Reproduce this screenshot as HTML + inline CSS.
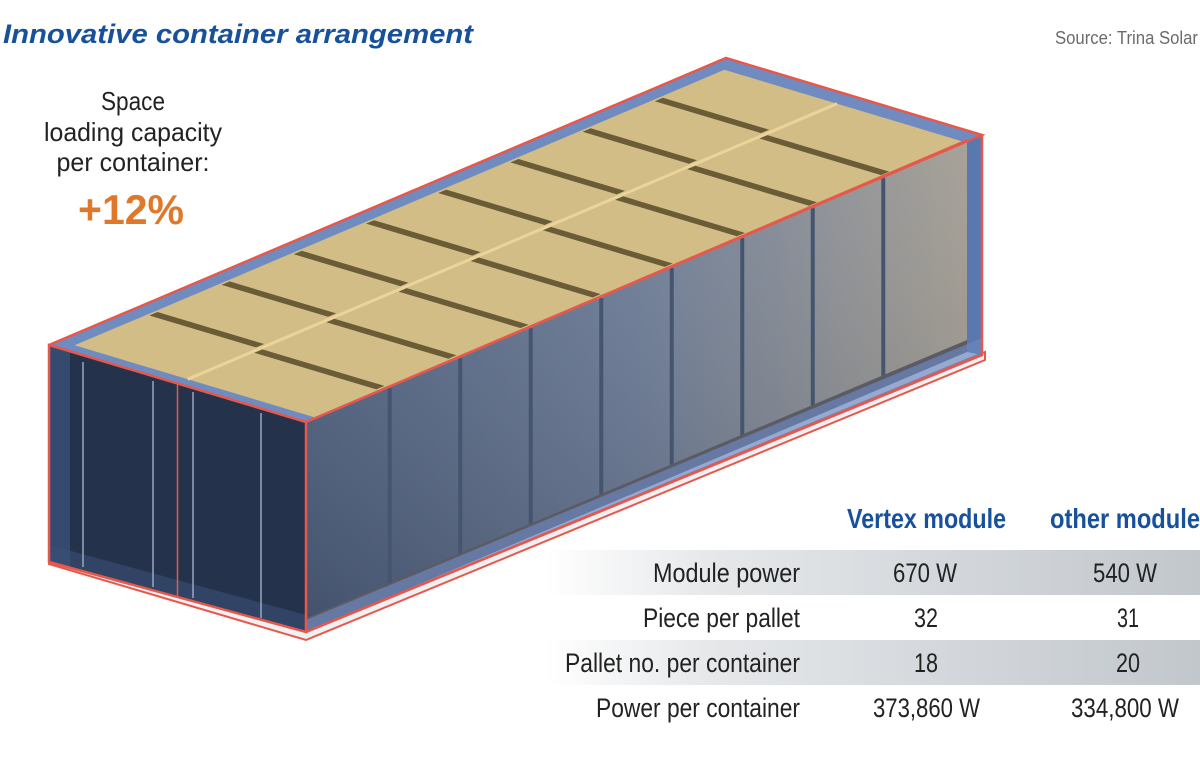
<!DOCTYPE html>
<html><head><meta charset="utf-8"><style>
html,body{margin:0;padding:0;background:#fff;}
svg{display:block;}
text{font-family:"Liberation Sans",sans-serif;}
</style></head><body>
<svg id="s" width="1200" height="763" viewBox="0 0 1200 763" xmlns="http://www.w3.org/2000/svg">
<defs>
<linearGradient id="side" x1="0" y1="0" x2="1" y2="0">
<stop offset="0" stop-color="#4f607f"/><stop offset="0.5" stop-color="#6a7a96"/><stop offset="1" stop-color="#a09a90"/>
</linearGradient>
<linearGradient id="sideV" x1="0" y1="0" x2="0" y2="1">
<stop offset="0" stop-color="#ffffff" stop-opacity="0.08"/><stop offset="1" stop-color="#000" stop-opacity="0.15"/>
</linearGradient>
<linearGradient id="row" x1="0" y1="0" x2="1" y2="0">
<stop offset="0" stop-color="#ffffff"/><stop offset="0.25" stop-color="#e6e8ea"/><stop offset="0.6" stop-color="#d4d8dc"/><stop offset="1" stop-color="#c2c7cc"/>
</linearGradient>
</defs>
<g id="cont"></g>
<text x="3" y="43" font-size="27" font-weight="bold" font-style="italic" fill="#17519b" textLength="470" lengthAdjust="spacingAndGlyphs">Innovative container arrangement</text>
<text x="1055" y="44" font-size="18" fill="#6b6b6b" textLength="143" lengthAdjust="spacingAndGlyphs">Source: Trina Solar</text>
<g font-size="26" fill="#222" text-anchor="middle">
<text x="133" y="110" textLength="64" lengthAdjust="spacingAndGlyphs">Space</text>
<text x="133" y="141" textLength="178" lengthAdjust="spacingAndGlyphs">loading capacity</text>
<text x="133" y="171" textLength="153" lengthAdjust="spacingAndGlyphs">per container:</text>
</g>
<text x="131" y="224" font-size="42" font-weight="bold" fill="#e0782c" text-anchor="middle" textLength="106" lengthAdjust="spacingAndGlyphs">+12%</text>
<rect x="545" y="550" width="655" height="45" fill="url(#row)"/>
<rect x="545" y="640" width="655" height="45" fill="url(#row)"/>
<g font-size="28" font-weight="bold" fill="#17519b">
<text x="847" y="528" textLength="159" lengthAdjust="spacingAndGlyphs">Vertex module</text>
<text x="1050" y="528" textLength="150" lengthAdjust="spacingAndGlyphs">other module</text>
</g>
<g font-size="27" fill="#222" lengthAdjust="spacingAndGlyphs">
<text x="653" y="582" textLength="147" lengthAdjust="spacingAndGlyphs">Module power</text>
<text x="643" y="627" textLength="157" lengthAdjust="spacingAndGlyphs">Piece per pallet</text>
<text x="565" y="672" textLength="235" lengthAdjust="spacingAndGlyphs">Pallet no. per container</text>
<text x="596" y="717" textLength="204" lengthAdjust="spacingAndGlyphs">Power per container</text>
<text x="893" y="582" textLength="64" lengthAdjust="spacingAndGlyphs">670 W</text>
<text x="1093" y="582" textLength="64" lengthAdjust="spacingAndGlyphs">540 W</text>
<text x="914" y="627" textLength="24" lengthAdjust="spacingAndGlyphs">32</text>
<text x="1117" y="627" textLength="22" lengthAdjust="spacingAndGlyphs">31</text>
<text x="914" y="672" textLength="24" lengthAdjust="spacingAndGlyphs">18</text>
<text x="1116" y="672" textLength="24" lengthAdjust="spacingAndGlyphs">20</text>
<text x="873" y="717" textLength="107" lengthAdjust="spacingAndGlyphs">373,860 W</text>
<text x="1071" y="717" textLength="108" lengthAdjust="spacingAndGlyphs">334,800 W</text>
</g>
</svg>
<script>
(function(){
var NS="http://www.w3.org/2000/svg",g=document.getElementById("cont");
function el(t,a){var e=document.createElementNS(NS,t);for(var k in a)e.setAttribute(k,a[k]);g.appendChild(e);return e;}
function P(p){return p.map(function(q){return q[0].toFixed(1)+","+q[1].toFixed(1)}).join(" ");}
var A=[49,345],B=[306,422],C=[982,135],D=[726,58];
function L(a,b,t){return [a[0]+(b[0]-a[0])*t,a[1]+(b[1]-a[1])*t];}
function T(u,v){return L(L(A,B,v),L(D,C,v),u);}
var Ab=[49,562],Bb=[306,632];
el("polygon",{points:P([[49,564],[306,640],[985,360],[985,352],[306,632],[49,556]]),fill:"#eef0f4",stroke:"#e8584a","stroke-width":"2"});
el("polygon",{points:P([A,B,C,D]),fill:"#6f8bc0"});
var bu0=0.015,bu1=0.975,bv0=0.06;
el("polygon",{points:P([T(bu0,bv0),T(bu0,1),T(bu1,1),T(bu1,bv0)]),fill:"#d2bd86"});
for(var j=0;j<2;j++){
 var v0=j==0?bv0:0.5,v1=j==0?0.5:1.0,off=j==0?0:-0.012;
 for(var i=1;i<9;i++){
  var u0=bu0+(bu1-bu0)*i/9+off;
  el("polygon",{points:P([T(u0,v0+0.01),T(u0,v1-0.015),T(u0+0.012,v1-0.015),T(u0+0.012,v0+0.01)]),fill:"#6b5c38"});
 }}
var g1=T(bu0,0.5),g2=T(bu1,0.5);
el("line",{x1:g1[0],y1:g1[1],x2:g2[0],y2:g2[1],stroke:"#ead49a","stroke-width":"3"});
var Ci=[967,140],Cib=[967,352];
el("polygon",{points:P([B,Ci,Cib,Bb]),fill:"url(#side)"});
el("polygon",{points:P([B,Ci,Cib,Bb]),fill:"url(#sideV)"});
for(var k=1;k<9;k++){var t=0.02+0.96*k/9;var p=L(B,Ci,t),q=L(Bb,Cib,t);
 el("line",{x1:p[0],y1:p[1]+2,x2:q[0],y2:q[1]-6,stroke:"#46556f","stroke-width":"4"});}
el("polygon",{points:P([[306,618],[967,340],[967,352],[306,632]]),fill:"#5c5a62"});
el("polygon",{points:P([Ci,C,[982,355],Cib]),fill:"#5a78b0"});
el("polygon",{points:P([[306,620],[982,338],[982,355],[306,632]]),fill:"#6a86bd",opacity:"0.7"});
el("polygon",{points:P([A,B,Bb,Ab]),fill:"#25324b"});
el("polygon",{points:P([A,[70,352],[70,568],Ab]),fill:"#3a5078",opacity:"0.8"});
el("polygon",{points:P([[49,545],[306,615],[306,632],[49,562]]),fill:"#3a5078",opacity:"0.6"});
var m1=L(A,B,0.5),m2=L(Ab,Bb,0.5);
el("line",{x1:m1[0],y1:m1[1],x2:m2[0],y2:m2[1],stroke:"#e8584a","stroke-width":"1.5"});
[[83,362,83,567],[153,381,153,587],[193,392,193,598],[261,413,261,618]].forEach(function(l){
 el("line",{x1:l[0],y1:l[1],x2:l[2],y2:l[3],stroke:"#9aa6bf","stroke-width":"1.5"});});
el("polygon",{points:P([A,B,Bb,Ab]),fill:"none",stroke:"#e8584a","stroke-width":"2.5"});
el("polyline",{points:P([A,D,C,B]),fill:"none",stroke:"#e8584a","stroke-width":"2.5"});
el("polyline",{points:P([C,[982,355],Bb]),fill:"none",stroke:"#e8584a","stroke-width":"2.5"});
el("line",{x1:B[0],y1:B[1],x2:Ci[0],y2:Ci[1],stroke:"#e8584a","stroke-width":"2"});
})();
</script>
</body></html>
